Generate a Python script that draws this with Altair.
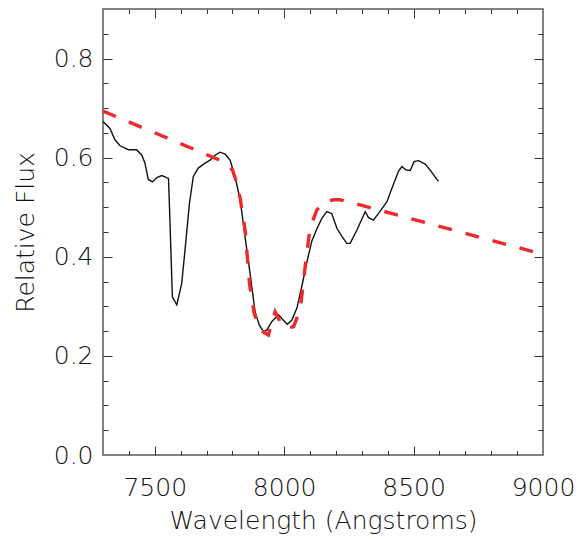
import altair as alt
import pandas as pd

# Observed spectrum (black)
wl_black = [7300, 7327, 7346, 7366, 7398, 7430, 7450, 7462, 7475, 7491, 7508, 7527,
            7553, 7559, 7568, 7585, 7604, 7617, 7634, 7649, 7668, 7694, 7714, 7733,
            7752, 7772, 7791, 7810, 7830, 7849, 7868, 7888, 7904, 7920, 7933, 7952,
            7978, 7997, 8012, 8029, 8049, 8068, 8088, 8107, 8126, 8146, 8165, 8184,
            8204, 8223, 8242, 8255, 8281, 8313, 8326, 8345, 8371, 8397, 8416, 8442,
            8455, 8471, 8487, 8502, 8519, 8545, 8564, 8596]
flux_black = [0.673, 0.659, 0.636, 0.624, 0.616, 0.616, 0.605, 0.589, 0.556, 0.551, 0.560, 0.564,
              0.558, 0.468, 0.319, 0.303, 0.346, 0.414, 0.508, 0.562, 0.579, 0.589, 0.595, 0.605,
              0.611, 0.607, 0.595, 0.562, 0.515, 0.440, 0.367, 0.288, 0.262, 0.249, 0.252, 0.269,
              0.283, 0.272, 0.264, 0.272, 0.296, 0.340, 0.390, 0.432, 0.456, 0.478, 0.491, 0.487,
              0.457, 0.441, 0.427, 0.427, 0.454, 0.491, 0.479, 0.474, 0.492, 0.511, 0.538, 0.573,
              0.582, 0.575, 0.574, 0.592, 0.594, 0.587, 0.575, 0.552]

# Model (red dashed)
wl_model = [7300, 7765, 7800, 7815, 7830, 7849, 7866, 7884, 7907, 7939, 7952, 7965,
            7984, 8007, 8036, 8062, 8081, 8100, 8126, 8152, 8190, 8216, 8255, 9000]
flux_model = [0.694, 0.592, 0.575, 0.552, 0.518, 0.454, 0.346, 0.286, 0.252, 0.242, 0.266, 0.289,
              0.269, 0.256, 0.259, 0.293, 0.380, 0.458, 0.494, 0.510, 0.515, 0.515, 0.510, 0.405]

x_label_ticks = [7500, 8000, 8500, 9000]
x_major_ticks = [7500, 8000, 8500]
x_minor_ticks = [7400, 7600, 7700, 7800, 7900, 8100, 8200, 8300, 8400, 8600, 8700, 8800, 8900]
y_label_ticks = [0.0, 0.2, 0.4, 0.6, 0.8]
y_major_ticks = [0.2, 0.4, 0.6, 0.8]
y_minor_ticks = [0.05, 0.1, 0.15, 0.25, 0.3, 0.35, 0.45, 0.5, 0.55, 0.65, 0.7, 0.75, 0.85]

df_black = pd.DataFrame({"wl": wl_black, "flux": flux_black})
df_model = pd.DataFrame({"wl": wl_model, "flux": flux_model})

FONT = "DejaVu Sans"
TXT = "#111111"
TICK = "#333333"

xscale = alt.Scale(domain=[7300, 9000], nice=False, zero=False)
yscale = alt.Scale(domain=[0, 0.9], nice=False, zero=False)


def tick_axis(orient, values, size):
    return alt.Axis(orient=orient, values=values, labels=False, domain=False, grid=False,
                    ticks=True, tickSize=size, offset=-size, tickColor=TICK, tickWidth=1,
                    title=None)


x_lab_axis = alt.Axis(orient="bottom", values=x_label_ticks, format="d", ticks=False,
                      domain=False, grid=False, labelPadding=40, labelBaseline="alphabetic",
                      labelFlush=False, labelOverlap=False, labelFontSize=25, labelFont=FONT,
                      labelFontWeight=200, labelColor=TXT,
                      title="Wavelength (Angstroms)", titleY=73, titleBaseline="alphabetic",
                      titleFontSize=25, titleFont=FONT, titleFontWeight=200, titleColor=TXT)
y_lab_axis = alt.Axis(orient="left", values=y_label_ticks, format=".1f", ticks=False,
                      domain=False, grid=False, labelPadding=10, labelFlush=False,
                      labelOverlap=False, labelFontSize=25, labelFont=FONT,
                      labelFontWeight=200, labelColor=TXT,
                      title="Relative Flux", titleX=-70, titleY=223, titleBaseline="alphabetic",
                      titleFontSize=25, titleFont=FONT, titleFontWeight=200, titleColor=TXT)

black = alt.Chart(df_black).mark_line(color="#111111", strokeWidth=1.4).encode(
    x=alt.X("wl:Q", scale=xscale, axis=x_lab_axis),
    y=alt.Y("flux:Q", scale=yscale, axis=y_lab_axis),
)

model = alt.Chart(df_model).mark_line(color="#ef2a2e", strokeWidth=3.4, strokeDash=[14, 14]).encode(
    x=alt.X("wl:Q", scale=xscale, axis=tick_axis("bottom", x_major_ticks, 9)),
    y=alt.Y("flux:Q", scale=yscale, axis=tick_axis("left", y_major_ticks, 9)),
)

ghost1 = alt.Chart(df_black).mark_point(opacity=0).encode(
    x=alt.X("wl:Q", scale=xscale, axis=tick_axis("bottom", x_minor_ticks, 4.5)),
    y=alt.Y("flux:Q", scale=yscale, axis=tick_axis("left", y_minor_ticks, 5)),
)
ghost2 = alt.Chart(df_black).mark_point(opacity=0).encode(
    x=alt.X("wl:Q", scale=xscale, axis=tick_axis("top", x_major_ticks, 9)),
    y=alt.Y("flux:Q", scale=yscale, axis=tick_axis("right", y_major_ticks, 9)),
)
ghost3 = alt.Chart(df_black).mark_point(opacity=0).encode(
    x=alt.X("wl:Q", scale=xscale, axis=tick_axis("top", x_minor_ticks, 4.5)),
    y=alt.Y("flux:Q", scale=yscale, axis=tick_axis("right", y_minor_ticks, 5)),
)

chart = alt.layer(ghost1, ghost2, ghost3, black, model).resolve_axis(
    x="independent", y="independent"
).properties(
    width=440, height=446,
    padding={"left": 103, "top": 9, "right": 36, "bottom": 84},
    autosize=alt.AutoSizeParams(type="none"),
    background="white",
).configure_view(stroke="#5a5a5a", strokeWidth=1.5)

chart.save("out.html", embed_options={"renderer": "svg", "actions": False})
